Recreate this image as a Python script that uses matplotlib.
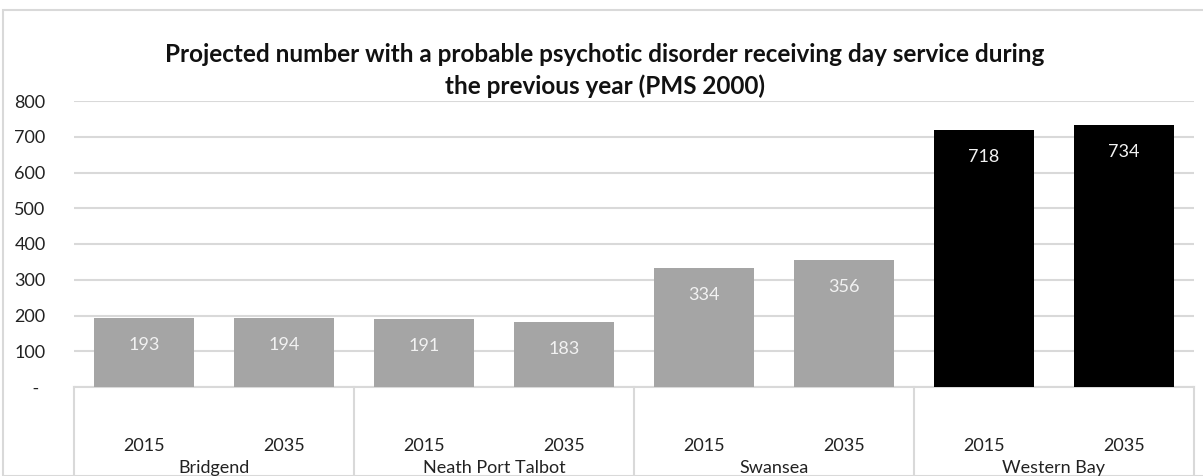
import matplotlib.pyplot as plt
from matplotlib.lines import Line2D
from matplotlib.patches import Rectangle

# data
groups = ["Bridgend", "Neath Port Talbot", "Swansea", "Western Bay"]
years = ["2015", "2035"]
values = [193, 194, 191, 183, 334, 356, 718, 734]
bar_colors = ["#a5a5a5"] * 6 + ["#000000"] * 2
y_ticks = [0, 100, 200, 300, 400, 500, 600, 700, 800]
y_tick_labels = ["    -", "100", "200", "300", "400", "500", "600", "700", "800"]

plt.rcParams["font.family"] = ["Lato", "DejaVu Sans"]

W, H = 1203, 476
fig = plt.figure(figsize=(W / 100, H / 100), dpi=100)

# axes position in pixels
left_px, right_px = 74, 1194
top_px, zero_px = 101, 387
ax = fig.add_axes([left_px / W, 1 - zero_px / H,
                   (right_px - left_px) / W, (zero_px - top_px) / H])

x = list(range(len(values)))
ax.bar(x, values, width=0.715, color=bar_colors, zorder=3)
ax.set_xlim(-0.5, len(values) - 0.5)
ax.set_ylim(0, 800)

ax.set_yticks(y_ticks)
ax.set_yticklabels(y_tick_labels, fontsize=13, color="#222222")
ax.tick_params(axis="y", length=0, pad=43)  # 60 px, labels left aligned
for lab in ax.get_yticklabels():
    lab.set_horizontalalignment("left")
ax.set_xticks([])

ax.grid(axis="y", color="#d9d9d9", linewidth=1.5, zorder=0)
for s in ["top", "right", "left"]:
    ax.spines[s].set_visible(False)
ax.spines["bottom"].set_color("#d9d9d9")
ax.spines["bottom"].set_linewidth(1.5)

# data labels inside the bar top (~27 px below top)
for xi, v in zip(x, values):
    ax.annotate(str(v), (xi, v), xytext=(0, -19.5), textcoords="offset points",
                ha="center", va="center", fontsize=13, color="#f2f2f2",
                zorder=4, annotation_clip=False)

# category axis box below the plot
slot = (right_px - left_px) / len(values)
for k in range(len(groups) + 1):
    xp = left_px + k * 2 * slot
    fig.add_artist(Line2D([xp / W, xp / W], [1 - zero_px / H, 0],
                          color="#d9d9d9", linewidth=1.5))
for i in range(len(values)):
    xc = left_px + (i + 0.5) * slot
    fig.text(xc / W, 1 - 446 / H, years[i % 2], ha="center", va="center",
             fontsize=13, color="#222222")
for g, name in enumerate(groups):
    xc = left_px + (g + 0.5) * 2 * slot
    fig.text(xc / W, 1 - 468 / H, name, ha="center", va="center",
             fontsize=13, color="#222222")

# title
fig.text(605 / W, 1 - 54 / H,
         "Projected number with a probable psychotic disorder receiving day service during",
         ha="center", va="center", fontsize=17.5, fontweight="bold", color="#111111")
fig.text(605 / W, 1 - 86 / H, "the previous year (PMS 2000)",
         ha="center", va="center", fontsize=17.5, fontweight="bold", color="#111111")

# outer chart border
fig.add_artist(Rectangle((3 / W, 0), (W - 3) / W + 0.01, 1 - 10 / H,
                         fill=False, edgecolor="#d9d9d9", linewidth=1.5,
                         transform=fig.transFigure))

fig.savefig("out.png", dpi=100)
